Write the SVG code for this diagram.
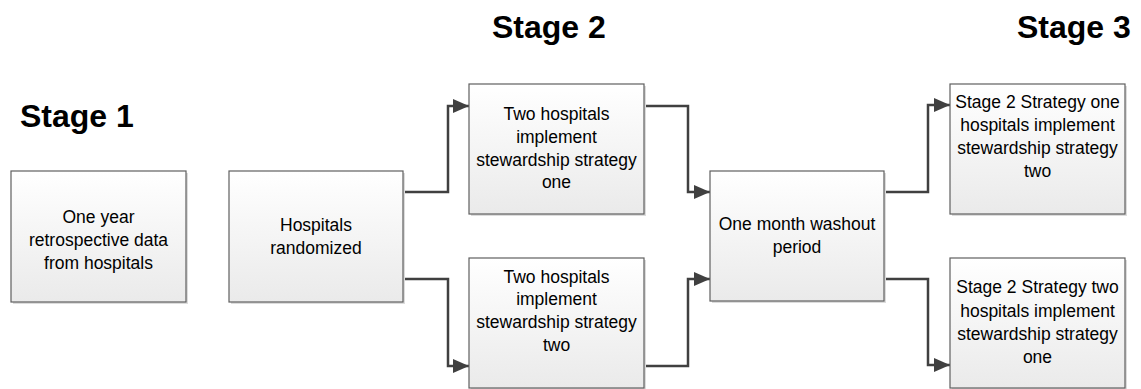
<svg xmlns="http://www.w3.org/2000/svg" width="1141" height="389" viewBox="0 0 1141 389">
<style>
.box{fill:url(#g);stroke:#5f5f5f;stroke-width:1.2}
.sh{fill:#dcdcdc}
.t{font-family:"Liberation Sans",Arial,sans-serif;font-size:17.5px;fill:#000;text-anchor:middle}
.h{font-family:"Liberation Sans",Arial,sans-serif;font-size:32px;font-weight:bold;fill:#000}
.c{fill:none;stroke:#404040;stroke-width:2.5;marker-end:url(#a)}
</style>
<defs>
<linearGradient id="g" x1="0" y1="0" x2="0" y2="1">
<stop offset="0" stop-color="#ffffff"/>
<stop offset="1" stop-color="#eaeaea"/>
</linearGradient>
<marker id="a" markerUnits="userSpaceOnUse" markerWidth="18" markerHeight="14" refX="16" refY="7" orient="auto">
<path d="M0,0 L16,7 L0,14 Z" fill="#404040"/>
</marker>
</defs>
<text class="h" x="20" y="127">Stage 1</text>
<text class="h" x="492" y="38">Stage 2</text>
<text class="h" x="1017" y="38">Stage 3</text>
<g id="connectors">
<path class="c" d="M403,192 H448 V106 H469"/>
<path class="c" d="M403,279 H448 V366 H469"/>
<path class="c" d="M644,106 H688 V192 H710"/>
<path class="c" d="M644,366 H688 V279 H710"/>
<path class="c" d="M884,192 H928 V105 H950"/>
<path class="c" d="M884,279 H928 V365 H950"/>
</g>
<g id="n1">
<rect class="sh" x="13" y="173" width="175" height="131"/>
<rect class="box" x="11" y="171" width="175" height="131"/>
<text class="t" x="98.5" y="223">One year</text>
<text class="t" x="98.5" y="246">retrospective data</text>
<text class="t" x="98.5" y="269">from hospitals</text>
</g>
<g id="n2">
<rect class="sh" x="231" y="173" width="174" height="131"/>
<rect class="box" x="229" y="171" width="174" height="131"/>
<text class="t" x="316" y="231">Hospitals</text>
<text class="t" x="316" y="254">randomized</text>
</g>
<g id="n3">
<rect class="sh" x="471" y="86" width="175" height="130"/>
<rect class="box" x="469" y="84" width="175" height="130"/>
<text class="t" x="556.5" y="120">Two hospitals</text>
<text class="t" x="556.5" y="143">implement</text>
<text class="t" x="556.5" y="166">stewardship strategy</text>
<text class="t" x="556.5" y="188">one</text>
</g>
<g id="n4">
<rect class="sh" x="471" y="260" width="175" height="130"/>
<rect class="box" x="469" y="258" width="175" height="130"/>
<text class="t" x="556.5" y="283">Two hospitals</text>
<text class="t" x="556.5" y="305">implement</text>
<text class="t" x="556.5" y="328">stewardship strategy</text>
<text class="t" x="556.5" y="351">two</text>
</g>
<g id="n5">
<rect class="sh" x="712" y="173" width="174" height="130"/>
<rect class="box" x="710" y="171" width="174" height="130"/>
<text class="t" x="797" y="230">One month washout</text>
<text class="t" x="797" y="253">period</text>
</g>
<g id="n6">
<rect class="sh" x="952" y="86" width="175" height="130"/>
<rect class="box" x="950" y="84" width="175" height="130"/>
<text class="t" x="1037.5" y="108">Stage 2 Strategy one</text>
<text class="t" x="1037.5" y="131">hospitals implement</text>
<text class="t" x="1037.5" y="154">stewardship strategy</text>
<text class="t" x="1037.5" y="177">two</text>
</g>
<g id="n7">
<rect class="sh" x="952" y="260" width="175" height="130"/>
<rect class="box" x="950" y="258" width="175" height="130"/>
<text class="t" x="1037.5" y="293">Stage 2 Strategy two</text>
<text class="t" x="1037.5" y="317">hospitals implement</text>
<text class="t" x="1037.5" y="340">stewardship strategy</text>
<text class="t" x="1037.5" y="363">one</text>
</g>
</svg>
